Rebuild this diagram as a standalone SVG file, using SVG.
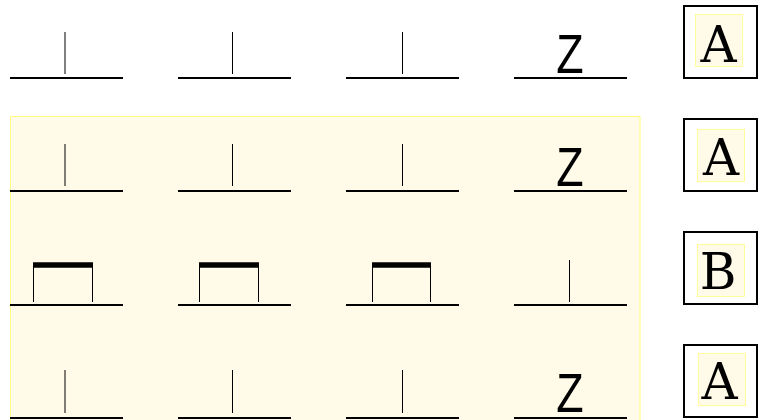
<svg xmlns="http://www.w3.org/2000/svg" width="763" height="420" viewBox="0 0 763 420">
<style>
.base{stroke:#000;stroke-width:2;fill:none}
.tick{stroke:#000;stroke-width:1;fill:none}
.bar{stroke:#000;stroke-width:5.5;fill:none}
.z{font-family:"Liberation Sans",Arial,sans-serif;font-size:56px;fill:#000}
.lbl{font-family:"DejaVu Serif",serif;font-size:50px;fill:#000}
.outer{fill:#fff;stroke:#000;stroke-width:2}
.inner{fill:#fffbe8;stroke:#ffff99;stroke-width:1}
</style>
<rect width="763" height="420" fill="#fff"/>
<rect id="panel" x="10.5" y="116.5" width="629.5" height="310" fill="#fffbe8" stroke="#ffff80" stroke-width="1"/>
<g id="row1">
<line class="base" x1="10" y1="78" x2="123" y2="78"/><line class="tick" x1="65" y1="32" x2="65" y2="74"/>
<line class="base" x1="178" y1="78" x2="291" y2="78"/><line class="tick" x1="232.5" y1="32" x2="232.5" y2="74"/>
<line class="base" x1="346" y1="78" x2="459" y2="78"/><line class="tick" x1="402.5" y1="32" x2="402.5" y2="74"/>
<line class="base" x1="514" y1="78" x2="627" y2="78"/><text class="z" text-anchor="middle" transform="translate(570,73) scale(0.8,1)">Z</text>
</g>
<g id="row2">
<line class="base" x1="10" y1="191" x2="123" y2="191"/><line class="tick" x1="65" y1="144" x2="65" y2="186"/>
<line class="base" x1="178" y1="191" x2="291" y2="191"/><line class="tick" x1="232.5" y1="144" x2="232.5" y2="186"/>
<line class="base" x1="346" y1="191" x2="459" y2="191"/><line class="tick" x1="402.5" y1="144" x2="402.5" y2="186"/>
<line class="base" x1="514" y1="191" x2="627" y2="191"/><text class="z" text-anchor="middle" transform="translate(570,185.5) scale(0.8,1)">Z</text>
</g>
<g id="row3">
<line class="base" x1="10" y1="305" x2="123" y2="305"/><path class="tick" d="M33.5,265V302M92.5,265V302"/><line class="bar" x1="33" y1="265" x2="93" y2="265"/>
<line class="base" x1="178" y1="305" x2="291" y2="305"/><path class="tick" d="M199.5,265V302M258.5,265V302"/><line class="bar" x1="199" y1="265" x2="259" y2="265"/>
<line class="base" x1="346" y1="305" x2="459" y2="305"/><path class="tick" d="M372.5,265V302M430.5,265V302"/><line class="bar" x1="372" y1="265" x2="431" y2="265"/>
<line class="base" x1="514" y1="305" x2="627" y2="305"/><line class="tick" x1="569.5" y1="260" x2="569.5" y2="302"/>
</g>
<g id="row4">
<line class="base" x1="10" y1="418" x2="123" y2="418"/><line class="tick" x1="65" y1="370" x2="65" y2="413"/>
<line class="base" x1="178" y1="418" x2="291" y2="418"/><line class="tick" x1="232.5" y1="370" x2="232.5" y2="413"/>
<line class="base" x1="346" y1="418" x2="459" y2="418"/><line class="tick" x1="402.5" y1="370" x2="402.5" y2="413"/>
<line class="base" x1="514" y1="418" x2="627" y2="418"/><text class="z" text-anchor="middle" transform="translate(570,412) scale(0.8,1)">Z</text>
</g>
<g id="boxA1">
<rect class="outer" x="684" y="6" width="73" height="72"/>
<rect class="inner" x="695.5" y="14.5" width="47" height="52"/>
<text class="lbl" x="718.5" y="62" text-anchor="middle">A</text>
</g>
<g id="boxA2">
<rect class="outer" x="684" y="119" width="73" height="72"/>
<rect class="inner" x="697.5" y="129.5" width="47" height="52"/>
<text class="lbl" x="721" y="175" text-anchor="middle">A</text>
</g>
<g id="boxB">
<rect class="outer" x="684" y="232" width="73" height="72"/>
<rect class="inner" x="697.5" y="244.5" width="47" height="52"/>
<text class="lbl" x="718" y="289" text-anchor="middle">B</text>
</g>
<g id="boxA3">
<rect class="outer" x="684" y="345" width="73" height="72"/>
<rect class="inner" x="698.5" y="353.5" width="47" height="52"/>
<text class="lbl" x="719.5" y="399" text-anchor="middle">A</text>
</g>
<g id="connectors"></g>
</svg>
